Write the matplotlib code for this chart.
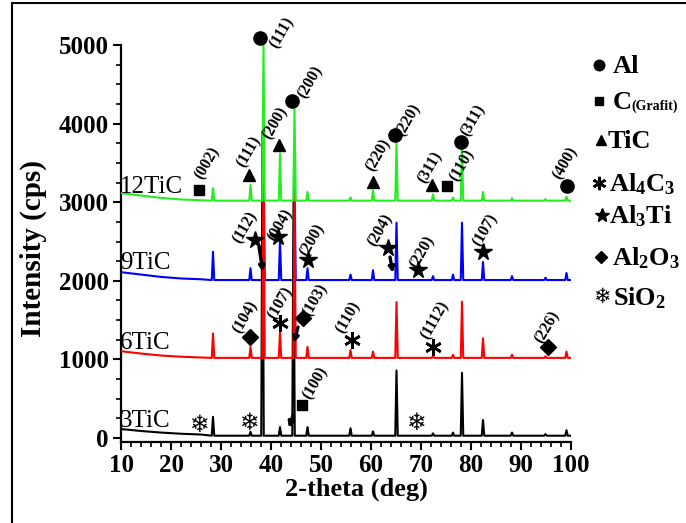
import matplotlib

matplotlib.use("Agg")
import matplotlib.pyplot as plt
from matplotlib.lines import Line2D
from matplotlib.patches import Rectangle
from matplotlib.ticker import MultipleLocator

plt.rcParams["font.family"] = ["Liberation Serif", "DejaVu Sans"]
plt.rcParams["font.weight"] = "bold"
plt.rcParams["axes.labelweight"] = "bold"
plt.rcParams["mathtext.fontset"] = "custom"
plt.rcParams["mathtext.rm"] = "Liberation Serif:bold"
plt.rcParams["mathtext.bf"] = "Liberation Serif:bold"
plt.rcParams["mathtext.it"] = "Liberation Serif:bold:italic"
plt.rcParams["mathtext.default"] = "rm"

# --- XRD patterns (cps): sloping start of the baseline, then peak apexes ---
BASE_X = [10, 14, 18, 22, 26]
PEAK_POS = [28.4, 35.9, 38.5, 41.8, 44.7, 47.3, 55.9, 60.4, 65.1, 72.4, 76.4,
            78.2, 82.4, 88.2, 94.9, 99.1]
PEAK_POS_3TIC = [28.4, 35.9, 38.3, 41.8, 44.5, 47.3, 55.9, 60.4, 65.1, 72.4,
                 76.4, 78.2, 82.4, 88.2, 94.9, 99.1]

SAMPLES = ["3TiC", "6TiC", "9TiC", "12TiC"]
COLORS = ["black", "#ff0000", "#0000ff", "#22ee22"]
BASE_Y = {
    "3TiC": [115, 90, 70, 55, 45],
    "6TiC": [1105, 1075, 1050, 1035, 1025],
    "9TiC": [2110, 2080, 2050, 2030, 2020],
    "12TiC": [3115, 3085, 3055, 3035, 3025],
}
LEVEL = {"3TiC": 30, "6TiC": 1020, "9TiC": 2010, "12TiC": 3020}
HEIGHTS = {
    "3TiC": [270, 80, 3900, 140, 3000, 140, 125, 85, 860, 60, 70, 830, 230, 70, 50, 100],
    "6TiC": [1330, 1160, 3700, 1350, 3100, 1160, 1120, 1100, 1730, 1040, 1060, 1735,
             1270, 1060, 1040, 1100],
    "9TiC": [2370, 2160, 3750, 2520, 3280, 2160, 2080, 2135, 2740, 2060, 2080, 2740,
             2240, 2060, 2040, 2100],
    "12TiC": [3180, 3220, 5000, 3620, 4200, 3130, 3060, 3150, 3750, 3100, 3060, 3700,
              3130, 3050, 3040, 3070],
}
# sample name label: (x, baseline y)
SAMPLE_LABEL_XY = {"3TiC": (9.8, 145), "6TiC": (9.8, 1130),
                   "9TiC": (9.8, 2150), "12TiC": (9.8, 3117)}

# --- phase identification: (phase, marker x, marker y, hkl, label x, label y) ---
MARKS_12TIC = [
    ("C", 25.6, 3155, "(002)", 27.2, 3498),
    ("TiC", 35.6, 3345, "(111)", 35.6, 3638),
    ("TiC", 41.6, 3727, "(200)", 40.8, 4007),
    ("Al", 37.8, 5088, "(111)", 42.2, 5152),
    ("Al", 44.2, 4287, "(200)", 47.8, 4528),
    ("TiC", 60.4, 3256, "(220)", 61.4, 3600),
    ("Al", 64.8, 3854, "(220)", 67.4, 4045),
    ("TiC", 72.2, 3218, "(311)", 71.8, 3447),
    ("C", 75.2, 3205, "(110)", 78.2, 3473),
    ("Al", 78.0, 3765, "(311)", 80.4, 4045),
    ("Al", 99.2, 3205, "(400)", 98.8, 3498),
]
MARKS_9TIC = [
    ("Al3Ti", 36.8, 2519, "(112)", 34.8, 2684),
    ("Al3Ti", 41.4, 2557, "(004)", 41.8, 2709),
    ("Al3Ti", 47.4, 2264, "(200)", 48.2, 2519),
    ("Al3Ti", 63.4, 2417, "(204)", 61.8, 2646),
    ("Al3Ti", 69.4, 2137, "(220)", 70.2, 2366),
    ("Al3Ti", 82.4, 2366, "(107)", 82.8, 2646),
]
MARKS_6TIC = [
    ("Al2O3", 35.8, 1285, "(104)", 34.8, 1539),
    ("Al4C3", 41.8, 1463, "(107)", 41.8, 1717),
    ("Al2O3", 46.4, 1526, "(103)", 48.8, 1755),
    ("Al4C3", 56.2, 1247, "(110)", 55.4, 1539),
    ("Al4C3", 72.4, 1158, "(1112)", 72.8, 1501),
    ("Al2O3", 95.4, 1158, "(226)", 95.2, 1412),
]
MARKS_3TIC = [
    ("SiO2", 25.8, 165, "", 0, 0),
    ("SiO2", 35.8, 191, "", 0, 0),
    ("SiO2", 69.2, 191, "", 0, 0),
    ("C", 46.2, 420, "(100)", 48.8, 700),
]
# arrows pointing from a mark to its peak: (x0, y0, x1, y1)
ARROWS = [(37.6, 2430, 38.4, 2112), (63.8, 2302, 64.4, 2099),
          (45.4, 1412, 44.6, 1208), (44.4, 293, 43.6, 127)]

PHASES = ["Al", "C", "TiC", "Al4C3", "Al3Ti", "Al2O3", "SiO2"]
PHASE_TEXT = ["Al", "C", "TiC", r"Al$_4$C$_3$", r"Al$_3$Ti", r"Al$_2$O$_3$", r"SiO$_2$"]

MARKER = {
    "Al": dict(marker="o", ms=9.5),
    "C": dict(marker="s", ms=7.5),
    "TiC": dict(marker="^", ms=8.5),
    "Al4C3": dict(marker=(6, 2, 0), ms=12, mew=1.9),
    "Al3Ti": dict(marker="*", ms=13),
    "Al2O3": dict(marker="D", ms=8),
}
SNOW = "\u2744"


def pattern(pos, base_y, level, heights, half_w=0.25):
    xs, ys = list(BASE_X), list(base_y)
    for p, h in zip(pos, heights):
        xs += [p - half_w, p, p + half_w]
        ys += [level, h, level]
    xs.append(100)
    ys.append(level)
    return xs, ys


W, H = 686, 523
fig = plt.figure(figsize=(W / 100, H / 100), dpi=100)
ax = fig.add_axes([121 / W, 1 - 442 / H, 450 / W, 397 / H])

order = {"9TiC": 1, "3TiC": 2, "6TiC": 3, "12TiC": 4}
for name, color in zip(SAMPLES, COLORS):
    pos = PEAK_POS_3TIC if name == "3TiC" else PEAK_POS
    xs, ys = pattern(pos, BASE_Y[name], LEVEL[name], HEIGHTS[name])
    ax.plot(xs, ys, color=color, lw=1.5, zorder=order[name])
    lx, ly = SAMPLE_LABEL_XY[name]
    ax.text(lx, ly, name, fontsize=18, fontweight="normal", ha="left",
            va="baseline", zorder=6)

for marks in (MARKS_12TIC, MARKS_9TIC, MARKS_6TIC, MARKS_3TIC):
    for phase, mx, my, hkl, lx, ly in marks:
        if phase == "SiO2":
            ax.text(mx, my, SNOW, family="DejaVu Sans", fontsize=17,
                    fontweight="bold", ha="center", va="center", zorder=7)
        else:
            ax.plot([mx], [my], color="black", ls="none", clip_on=False,
                    zorder=7, **MARKER[phase])
        if hkl:
            ax.text(lx, ly, hkl, fontsize=11.5, fontweight="bold", rotation=60,
                    ha="center", va="center", zorder=7)

for x0, y0, x1, y1 in ARROWS:
    ax.annotate("", xy=(x1, y1), xytext=(x0, y0),
                arrowprops=dict(arrowstyle="-|>", color="black", lw=2.4,
                                mutation_scale=8, shrinkA=0, shrinkB=0),
                zorder=8)

ax.set_xlim(10, 100)
ax.set_ylim(-50, 5000)
ax.spines["top"].set_visible(False)
ax.spines["right"].set_visible(False)
for s in ("left", "bottom"):
    ax.spines[s].set_linewidth(1.6)
ax.xaxis.set_major_locator(MultipleLocator(10))
ax.xaxis.set_minor_locator(MultipleLocator(2))
ax.yaxis.set_major_locator(MultipleLocator(1000))
ax.yaxis.set_minor_locator(MultipleLocator(250))
ax.tick_params(which="major", direction="out", length=6, width=1.5,
               labelsize=18, pad=3)
ax.tick_params(which="minor", direction="out", length=3.5, width=1.2)
for lbl in ax.get_xticklabels() + ax.get_yticklabels():
    lbl.set_fontweight("bold")
ax.set_xlabel("2-theta (deg)", fontsize=19, fontweight="bold")
ax.set_ylabel("Intensity (cps)", fontsize=21, fontweight="bold")
ax.xaxis.set_label_coords(0.524, -0.09)
ax.xaxis.label.set_va("top")
ax.yaxis.set_label_coords(-0.165, 0.487)

# phase key on the right
LEG_SYM_X = [599, 599, 601, 599, 602, 601, 602]
LEG_Y = [65, 101, 140, 183, 215, 257, 297]
LEG_TXT_X = [613, 613, 608, 609, 609, 612, 613]
for phase, txt, sx, sy, tx in zip(PHASES, PHASE_TEXT, LEG_SYM_X, LEG_Y, LEG_TXT_X):
    if phase == "SiO2":
        fig.text(sx / W, 1 - sy / H, SNOW, family="DejaVu Sans", fontsize=15,
                 fontweight="bold", ha="center", va="center")
    else:
        st = dict(MARKER[phase])
        st["ms"] *= 0.8
        fig.add_artist(Line2D([sx / W], [1 - sy / H], color="black",
                              transform=fig.transFigure, **st))
    fig.text(tx / W, 1 - (sy + 8) / H, txt, fontsize=19, fontweight="bold",
             ha="left", va="baseline")
fig.text(631 / W, 1 - 110 / H, "(Grafit)", fontsize=10, fontweight="bold",
         ha="left", va="baseline")

fig.patches.append(Rectangle((12 / W, -0.05), 1.1, 1.05 - 3 / H, fill=False,
                             lw=1.5, edgecolor="black",
                             transform=fig.transFigure, figure=fig))

fig.savefig("out.png", dpi=100)
